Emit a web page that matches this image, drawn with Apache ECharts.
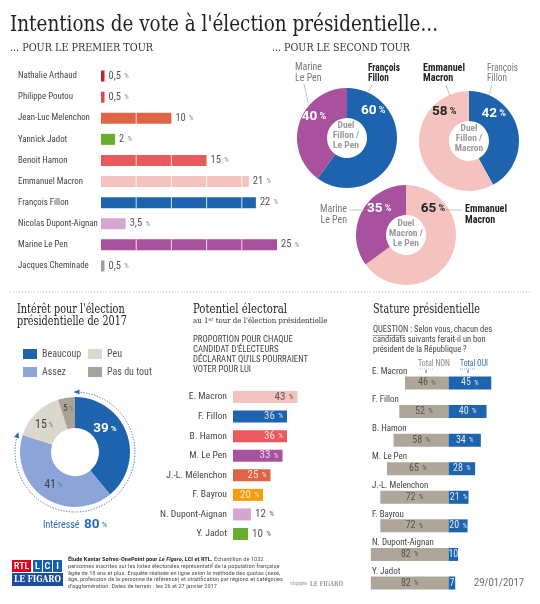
<!DOCTYPE html>
<html><head><meta charset="utf-8">
<script src="https://cdn.jsdelivr.net/npm/echarts/dist/echarts.min.js"></script>
<style>html,body{margin:0;padding:0;background:#fff}#c{width:540px;height:604px}</style>
</head><body><div id="c"></div><script>
// ---------- DATA ----------
const tour1Names = ['Nathalie Arthaud','Philippe Poutou','Jean-Luc Melenchon','Yannick Jadot','Benoit Hamon','Emmanuel Macron','François Fillon','Nicolas Dupont-Aignan','Marine Le Pen','Jacques Cheminade'];
const tour1Values = [0.5, 0.5, 10, 2, 15, 21, 22, 3.5, 25, 0.5];

const duel1Names = ['François Fillon','Marine Le Pen'];
const duel1Values = [60, 40];
const duel2Names = ['François Fillon','Emmanuel Macron'];
const duel2Values = [42, 58];
const duel3Names = ['Emmanuel Macron','Marine Le Pen'];
const duel3Values = [65, 35];

const interestNames = ['Beaucoup','Assez','Peu','Pas du tout'];
const interestValues = [39, 41, 15, 5];

const potNames = ['E. Macron','F. Fillon','B. Hamon','M. Le Pen','J.-L. Mélenchon','F. Bayrou','N. Dupont-Aignan','Y. Jadot'];
const potValues = [43, 36, 36, 33, 25, 20, 12, 10];

const statNames = ['E. Macron','F. Fillon','B. Hamon','M. Le Pen','J.-L. Melenchon','F. Bayrou','N. Dupont-Aignan','Y. Jadot'];
const statNon = [46, 52, 58, 65, 72, 72, 82, 82];
const statOui = [45, 40, 34, 28, 21, 20, 10, 7];

// ---------- STYLE ----------
const C = {arthaud:'#c8202a', poutou:'#e04650', melenchon:'#de6446', jadot:'#6aac2e', hamon:'#e95a5e',
  macron:'#f5c3bf', fillon:'#1d63ad', dupont:'#d5a6d2', lepen:'#a8519d', cheminade:'#a79e8f', bayrou:'#f59d0f'};
const tour1Colors = [C.arthaud,C.poutou,C.melenchon,C.jadot,C.hamon,C.macron,C.fillon,C.dupont,C.lepen,C.cheminade];
const potColors = [C.macron,C.fillon,C.hamon,C.lepen,C.melenchon,C.bayrou,C.dupont,C.jadot];
const interestColors = ['#1d63ad','#8da4d8','#dcd7cb','#aaa296'];
const COND = "'Roboto Condensed','Liberation Sans Narrow','DejaVu Sans Condensed','Open Sans Condensed',Roboto,sans-serif";
const SERIF = "'DejaVu Serif Condensed','DejaVu Serif','Liberation Serif',serif";
const SANS = "Roboto,'Liberation Sans',sans-serif";

const mctx = document.createElement('canvas').getContext('2d');
function measure(t, size, fam, wt){ mctx.font = (wt||'normal')+' '+size+'px '+fam; return mctx.measureText(t).width; }
function fitSize(texts, size, fam, target){ const w = Math.max(...texts.map(t=>measure(t,size,fam))); return w>target ? size*target/w : size; }
function T(o){
  const size=o.size, fam=o.family||COND, wt=o.weight||'normal';
  const lh=o.lh||Math.round(size*1.2);
  const plain=o.plain||o.lines;
  let sx=1;
  if(o.width){ const w=Math.max(...plain.map(t=>measure(t,size,fam,wt))); sx=o.width/w; }
  const st={text:o.text||o.lines.join('\n'), fontSize:size, fontFamily:fam, fontWeight:wt, fill:o.color||'#333', lineHeight:lh, align:o.align||'left', verticalAlign:'top'};
  if(o.rich) st.rich=o.rich;
  return {type:'text', x:o.x, y:o.cy-lh/2, scaleX:sx, silent:true, z:20, style:st};
}
function L(x1,y1,x2,y2,col,w,dash){ return {type:'line', silent:true, z:20, shape:{x1,y1,x2,y2}, style:{stroke:col||'#999', lineWidth:w||0.8, lineDash:dash||null}}; }
const fr = v => String(v).replace('.', ',');

const s1 = fitSize(tour1Names, 10.5, COND, 80);
const s2 = fitSize(potNames, 10.5, COND, 67);
const s3 = fitSize(statNames, 10, COND, 62);

function duel(center, names, values, colors, labelColors, offsets){
  return {type:'pie', radius:[20,50], center, startAngle:90, clockwise:true, silent:true, avoidLabelOverlap:false,
    itemStyle:{borderWidth:0},
    data: names.map((n,i)=>({name:n, value:values[i], itemStyle:{color:colors[i]}, label:{color:labelColors[i]}})),
    label:{show:true, position:'inside', formatter:p=>`{v|${p.value}}{p| %}`,
      rich:{v:{fontSize:13.5, fontWeight:'bold', fontFamily:SANS}, p:{fontSize:9, fontWeight:'bold', fontFamily:SANS}}},
    labelLine:{show:false},
    labelLayout: p=>({dx:offsets[p.dataIndex][0], dy:offsets[p.dataIndex][1]}),
    emphasis:{disabled:true}};
}

// interest arc
const ic=[75,452], ir=60;
const frac = (interestValues[0]+interestValues[1])/interestValues.reduce((a,b)=>a+b,0);
const a0=-Math.PI/2, a1=a0+2*Math.PI*frac;
function arrow(ang, dirSign){
  const px=ic[0]+ir*Math.cos(ang), py=ic[1]+ir*Math.sin(ang);
  const dx=-Math.sin(ang)*dirSign, dy=Math.cos(ang)*dirSign;
  const nx=-dy, ny=dx;
  return {type:'polygon', silent:true, z:20, shape:{points:[[px+dx*1.5,py+dy*1.5],[px-dx*4.5+nx*2.6,py-dy*4.5+ny*2.6],[px-dx*4.5-nx*2.6,py-dy*4.5-ny*2.6]]}, style:{fill:'#2a6db5'}};
}

const footerLines = [
  'Étude Kantar Sofres-OnePoint pour Le Figaro, LCI et RTL. Échantillon de 1032',
  'personnes inscrites sur les listes électorales représentatif de la population française',
  'âgée de 18 ans et plus. Enquête réalisée en ligne selon la méthode des quotas (sexe,',
  'âge, profession de la personne de référence) et stratification par régions et catégories',
  "d'agglomération. Dates de terrain : les 26 et 27 janvier 2017"];

const graphics = [
  T({x:10, cy:25, lines:["Intentions de vote à l'élection présidentielle..."], size:23, family:SERIF, color:'#222', width:428, lh:26}),
  T({x:10, cy:48, lines:['... POUR LE PREMIER TOUR'], size:11, family:SERIF, color:'#333', width:143}),
  T({x:272, cy:48, lines:['... POUR LE SECOND TOUR'], size:11, family:SERIF, color:'#333', width:138}),
  L(10,292,530,292,'#bbb',1,[1,2]),
  // donut annotations
  T({x:295, cy:67, lines:['Marine','Le Pen'], size:10, color:'#777', width:27, lh:11}),
  T({x:368, cy:68, lines:['François','Fillon'], size:10, weight:'bold', color:'#222', width:32, lh:10.5}),
  T({x:423, cy:68, lines:['Emmanuel','Macron'], size:10, weight:'bold', color:'#222', width:42, lh:10.5}),
  T({x:487, cy:68, lines:['François','Fillon'], size:10, color:'#777', width:31, lh:10.5}),
  T({x:347, cy:209.5, lines:['Marine','Le Pen'], size:10, color:'#777', width:27, lh:10.5, align:'right'}),
  T({x:465, cy:209.5, lines:['Emmanuel','Macron'], size:10, weight:'bold', color:'#222', width:42, lh:10.5}),
  L(304,84,308,103,'#aaa',0.7), L(372,85,368,92,'#aaa',0.7), L(446,85,450,96,'#aaa',0.7), L(492,85,489,95,'#aaa',0.7),
  L(350,210,362,210,'#aaa',0.7), L(444,210,462,210,'#aaa',0.7),
  // duel centers
  T({x:346, cy:126, lines:['Duel','Fillon /','Le Pen'], size:9.5, weight:'bold', color:'#9b9b9b', lh:9.6, align:'center'}),
  T({x:469, cy:129, lines:['Duel','Fillon /','Macron'], size:9.5, weight:'bold', color:'#9b9b9b', lh:9.6, align:'center'}),
  T({x:406, cy:223.5, lines:['Duel','Macron /','Le Pen'], size:9.5, weight:'bold', color:'#9b9b9b', lh:10, align:'center'}),
  // section titles
  T({x:17, cy:309.5, lines:["Intérêt pour l'élection",'présidentielle de 2017'], size:12.5, family:SERIF, color:'#222', width:110, lh:12}),
  T({x:193, cy:309.5, lines:['Potentiel électoral'], size:12.5, family:SERIF, color:'#222', width:94}),
  T({x:193, cy:321.5, text:"{a|au 1}{s|er}{a| tour de l'élection présidentielle}", plain:["au 1er tour de l'élection présidentielle"], size:7.5, family:SERIF, color:'#333', width:137, lh:9,
     rich:{a:{fontSize:7.5, fontFamily:SERIF, fill:'#333', lineHeight:9}, s:{fontSize:5, fontFamily:SERIF, fill:'#333', lineHeight:9, verticalAlign:'top', padding:[0,0,3,0]}}}),
  T({x:193, cy:340, lines:['PROPORTION POUR CHAQUE',"CANDIDAT D'ÉLECTEURS","DÉCLARANT QU'ILS POURRAIENT",'VOTER POUR LUI'], size:9, color:'#444', width:115, lh:10}),
  T({x:373, cy:309.5, lines:['Stature présidentielle'], size:12.5, family:SERIF, color:'#222', width:107}),
  T({x:373, cy:330, lines:['QUESTION : Selon vous, chacun des','candidats suivants ferait-il un bon','président de la République ?'], size:9.5, color:'#444', width:119, lh:10}),
  L(373,335.5,405,335.5,'#666',0.6),
  T({x:418, cy:364, lines:['Total NON'], size:9, color:'#888', width:32}),
  T({x:460, cy:364, lines:['Total OUI'], size:9, color:'#2a6db5', width:28}),
  L(418,369,434,369,'#999',0.6,[1,1]), L(460,369,476,369,'#2a6db5',0.6,[1,1]),
  L(426,370,426,373,'#666',1), L(468,370,468,373,'#2a6db5',1),
  // interest
  {type:'arc', silent:true, z:20, shape:{cx:ic[0], cy:ic[1], r:ir, startAngle:a0, endAngle:a1, clockwise:true}, style:{stroke:'#2a6db5', lineWidth:1, lineDash:[1.2,1.6], fill:null}},
  arrow(a0,-1), arrow(a1,1),
  T({x:43, cy:525, text:`{a|Intéressé}  {b|${interestValues[0]+interestValues[1]}}{p| %}`, plain:['Intéressé  80 %'], size:10, color:'#2a6db5', lh:14,
     rich:{a:{fontSize:10, fontFamily:COND, fill:'#2a6db5', lineHeight:14}, b:{fontSize:13.5, fontWeight:'bold', fontFamily:SANS, fill:'#2a6db5', lineHeight:14}, p:{fontSize:8, fontFamily:SANS, fill:'#2a6db5', lineHeight:14}}}),
  // footer logos
  {type:'rect', silent:true, shape:{x:12,y:560,width:19,height:12}, style:{fill:'#e3001b'}},
  T({x:21.5, cy:566.5, lines:['RTL'], size:8.5, weight:'bold', family:SANS, color:'#fff', lh:12, align:'center'}),
  {type:'rect', silent:true, shape:{x:33,y:560,width:9,height:12}, style:{fill:'#1560ae'}},
  {type:'rect', silent:true, shape:{x:43,y:560,width:9,height:12}, style:{fill:'#1560ae'}},
  {type:'rect', silent:true, shape:{x:53,y:560,width:9,height:12}, style:{fill:'#1560ae'}},
  T({x:37.5, cy:566.5, lines:['L'], size:9, weight:'bold', family:SANS, color:'#fff', lh:12, align:'center'}),
  T({x:47.5, cy:566.5, lines:['C'], size:9, weight:'bold', family:SANS, color:'#fff', lh:12, align:'center'}),
  T({x:57.5, cy:566.5, lines:['I'], size:9, weight:'bold', family:SANS, color:'#fff', lh:12, align:'center'}),
  {type:'rect', silent:true, shape:{x:12,y:573,width:51,height:13}, style:{fill:'#1b4f9c'}},
  T({x:14, cy:579.5, lines:['LE FIGARO'], size:8.5, weight:'bold', family:SERIF, color:'#fff', width:47, lh:13}),
  T({x:68, cy:560, text:'{b|Étude Kantar Sofres-OnePoint pour }{i|Le Figaro}{b|, LCI et RTL.}{n| Échantillon de 1032}\n'+footerLines.slice(1).map(l=>'{n|'+l+'}').join('\n'),
     plain:footerLines, size:5.6, color:'#444', width:215, lh:6.6,
     rich:{b:{fontSize:5.6, fontWeight:'bold', fontFamily:COND, fill:'#333', lineHeight:6.6}, i:{fontSize:5.6, fontWeight:'bold', fontStyle:'italic', fontFamily:COND, fill:'#333', lineHeight:6.6}, n:{fontSize:5.6, fontFamily:COND, fill:'#555', lineHeight:6.6}}}),
  T({x:290, cy:584, lines:['Infographie'], size:4.5, color:'#999', width:17}),
  T({x:310, cy:584, lines:['LE FIGARO'], size:7, weight:'bold', family:SERIF, color:'#999', width:33}),
  T({x:474, cy:583, lines:['29/01/2017'], size:10.5, family:SANS, color:'#666', width:50})
];

const chart = echarts.init(document.getElementById('c'), null, {renderer:'canvas', width:540, height:604});
const catAxisBase = {type:'category', inverse:true, axisLine:{show:false}, axisTick:{show:false}, splitLine:{show:false}};
const option = {
  animation:false,
  backgroundColor:'#fff',
  grid:[
    {left:101, top:65.5, width:176, height:211},
    {left:233, top:387.2, width:67.5, height:156.6},
    {left:368, top:368.7, width:128, height:228.6}
  ],
  xAxis:[
    {gridIndex:0, type:'value', min:0, max:25, show:false},
    {gridIndex:1, type:'value', min:0, max:45, show:false},
    {gridIndex:2, type:'value', min:-85, max:50, show:false}
  ],
  yAxis:[
    Object.assign({gridIndex:0, data:tour1Names, axisLabel:{interval:0, align:'left', margin:83, color:'#444', fontSize:s1, fontFamily:COND}}, catAxisBase),
    Object.assign({gridIndex:1, data:potNames, axisLabel:{interval:0, margin:6, color:'#444', fontSize:s2, fontFamily:COND}}, catAxisBase),
    Object.assign({gridIndex:2, data:statNames, axisLabel:{interval:0, align:'left', margin:-4, verticalAlign:'bottom', padding:[0,0,7,0], color:'#444', fontSize:s3, fontFamily:COND}}, catAxisBase)
  ],
  legend:[
    {data:['Beaucoup','Assez'], orient:'vertical', left:18, top:344, itemWidth:14, itemHeight:10, itemGap:8, icon:'rect', selectedMode:false,
     textStyle:{color:'#555', fontSize:10, fontFamily:COND, lineHeight:10}},
    {data:['Peu','Pas du tout'], orient:'vertical', left:83, top:344, itemWidth:14, itemHeight:10, itemGap:8, icon:'rect', selectedMode:false,
     textStyle:{color:'#555', fontSize:10, fontFamily:COND, lineHeight:10}}
  ],
  series:[
    {type:'bar', xAxisIndex:0, yAxisIndex:0, barWidth:11, silent:true,
     data:tour1Values.map((v,i)=>({value:v, itemStyle:{color:tour1Colors[i]}})),
     label:{show:true, position:'right', distance:4, formatter:p=>`{v|${fr(p.value)}} {p|%}`,
       rich:{v:{fontSize:10.5, color:'#555', fontFamily:COND}, p:{fontSize:7, color:'#888', fontFamily:COND}}}},
    {type:'custom', xAxisIndex:0, yAxisIndex:0, silent:true, z:5,
     data:tour1Values.map((v,i)=>[v,i]),
     renderItem:(params, api)=>{
       const v=api.value(0), i=api.value(1), ch=[];
       for(let k=5;k<v;k+=5){ const p=api.coord([k,i]); ch.push({type:'line', shape:{x1:p[0],y1:p[1]-5.5,x2:p[0],y2:p[1]+5.5}, style:{stroke:'rgba(255,255,255,0.8)', lineWidth:1}}); }
       return {type:'group', children:ch};
     }},
    {type:'bar', xAxisIndex:1, yAxisIndex:1, barWidth:12, silent:true,
     data:potValues.map((v,i)=>({value:v, itemStyle:{color:potColors[i]},
       label: i===0 ? {position:'insideRight', color:'#555'} : (i>=6 ? {position:'right', color:'#555'} : {position:'insideRight', color:'rgba(255,255,255,0.78)'})})),
     label:{show:true, distance:4, formatter:p=>`{v|${p.value}} {p|%}`,
       rich:{v:{fontSize:11, fontFamily:COND}, p:{fontSize:7.5, fontFamily:COND}}}},
    {type:'bar', xAxisIndex:2, yAxisIndex:2, stack:'stat', barWidth:13, silent:true,
     data:statNon.map(v=>-v), itemStyle:{color:'#aea799'},
     label:{show:true, position:'inside', color:'#555', formatter:p=>`{v|${-p.value}} {p|%}`,
       rich:{v:{fontSize:10, fontFamily:COND}, p:{fontSize:7, fontFamily:COND}}}},
    {type:'bar', xAxisIndex:2, yAxisIndex:2, stack:'stat', barWidth:13, silent:true,
     data:statOui, itemStyle:{color:'#1d63ad'},
     label:{show:true, position:'inside', color:'rgba(255,255,255,0.85)', formatter:p=> p.value>=15 ? `{v|${p.value}} {p|%}` : `{v|${p.value}}`,
       rich:{v:{fontSize:10, fontFamily:COND}, p:{fontSize:7, fontFamily:COND}}}},
    duel([347,138], duel1Names, duel1Values, [C.fillon,C.lepen], ['#fff','#fff'], [[-10,-39],[3,-10]]),
    duel([469,141], duel2Names, duel2Values, [C.fillon,C.macron], ['#fff','#222'], [[-12,-18],[12,-39]]),
    duel([406,235], duel3Names, duel3Values, [C.macron,C.lepen], ['#222','#fff'], [[-7,-44],[7,-9]]),
    {type:'pie', radius:[24,55], center:ic, startAngle:90, clockwise:true, silent:true, avoidLabelOverlap:false,
     itemStyle:{borderWidth:0},
     data:interestNames.map((n,i)=>({name:n, value:interestValues[i], itemStyle:{color:interestColors[i]}})),
     label:{show:true, position:'inside', formatter:p=>{const k=['v','w','w','s'][p.dataIndex]; const c=p.dataIndex===0?'pw':'pd'; return `{${k}|${p.value}}{${c}| %}`;},
       rich:{v:{fontSize:13.5, fontWeight:'bold', color:'#fff', fontFamily:SANS}, pw:{fontSize:8, color:'#fff', fontWeight:'bold', fontFamily:SANS},
             w:{fontSize:12, color:'#444', fontFamily:COND}, s:{fontSize:9.5, color:'#444', fontFamily:COND}, pd:{fontSize:7, color:'#777', fontFamily:COND}}},
     labelLine:{show:false},
     labelLayout:p=>{const o=[[-10,-9],[2,-2],[-1,3],[0,-1]][p.dataIndex]; return {dx:o[0], dy:o[1]};},
     emphasis:{disabled:true}}
  ],
  graphic: graphics
};
chart.setOption(option);
</script></body></html>
